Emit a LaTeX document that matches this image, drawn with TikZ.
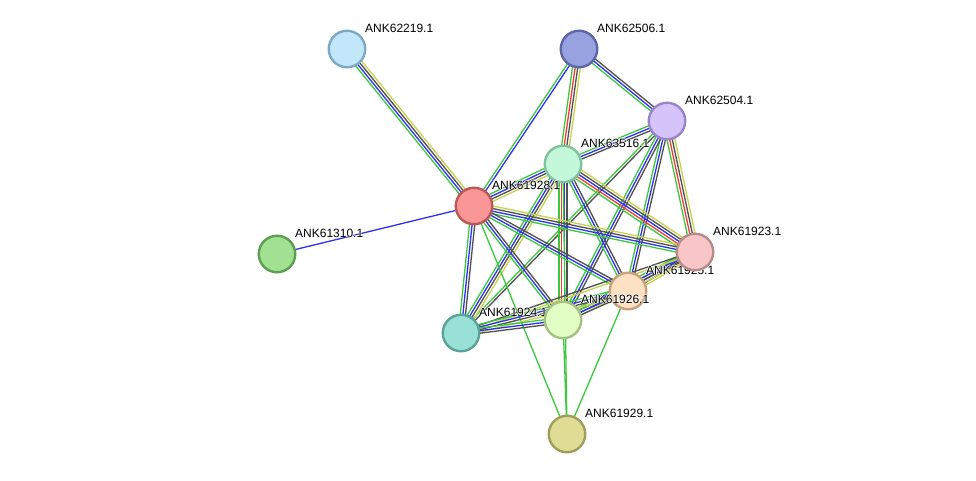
\documentclass[tikz,border=0pt]{standalone}
\usepackage{fontspec}
\setmainfont{Liberation Sans}
\usetikzlibrary{calc,backgrounds}
\definecolor{nbh}{HTML}{3CC83C}
\definecolor{fus}{HTML}{F03A3A}
\definecolor{coo}{HTML}{3030F2}
\definecolor{cex}{HTML}{505050}
\definecolor{txm}{HTML}{C6D24C}
% node colours: fill / rim
\definecolor{f62219}{HTML}{C3E7FA}\definecolor{r62219}{HTML}{7DA9C6}
\definecolor{f62506}{HTML}{99A2E0}\definecolor{r62506}{HTML}{5D66A5}
\definecolor{f62504}{HTML}{D5C4F9}\definecolor{r62504}{HTML}{9C84C9}
\definecolor{f63516}{HTML}{C3F9DA}\definecolor{r63516}{HTML}{80C29D}
\definecolor{f61928}{HTML}{FA9696}\definecolor{r61928}{HTML}{BA5757}
\definecolor{f61310}{HTML}{A2E092}\definecolor{r61310}{HTML}{5C9E52}
\definecolor{f61929}{HTML}{DEDC95}\definecolor{r61929}{HTML}{A19E5B}
\definecolor{f61925}{HTML}{FEE0C2}\definecolor{r61925}{HTML}{C6A27D}
\definecolor{f61923}{HTML}{F8C6C6}\definecolor{r61923}{HTML}{B88B8B}
\definecolor{f61924}{HTML}{99E0D6}\definecolor{r61924}{HTML}{5AA29A}
\definecolor{f61926}{HTML}{E2FEC4}\definecolor{r61926}{HTML}{A4C283}
\tikzset{prot/.style={circle,line width=2.4pt,minimum size=36.5pt,inner sep=0pt},
  lbl/.style={anchor=west,inner sep=0pt,font=\fontsize{12}{14}\selectfont},
  chan/.style={line width=1.3pt}}
\newcommand{\halo}[1]{\leavevmode\rlap{\color{white}\hspace{-0.8pt}#1}\rlap{\color{white}\hspace{0.8pt}#1}\rlap{\color{white}\raisebox{0.8pt}{#1}}\rlap{\color{white}\raisebox{-0.8pt}{#1}}#1}
\newcommand{\prot}[4]{\node[prot,fill=f#1,draw=r#1] (p#1) at (#2,#3) {};\node[lbl] (p#1t) at ($(p#1)+(18,-21)$) {\halo{#4}};}
\newcommand{\linkage}[3]{%
  \foreach \c [count=\i] in {#3} {\xdef\nch{\i}}
  \foreach \c [count=\i] in {#3} {
    \pgfmathsetmacro{\off}{(\i-(\nch+1)/2)*2.6}
    \draw[chan,\c] ($(#1)!\off pt!90:(#2)$) -- ($(#2)!\off pt!-90:(#1)$);
  }}
\begin{document}
\begin{tikzpicture}[x=1pt,y=-1pt]
\useasboundingbox (0,0) rectangle (976,480);
% proteins
\prot{62219}{347}{49}{ANK62219.1}
\prot{62506}{579}{49}{ANK62506.1}
\prot{62504}{667}{121}{ANK62504.1}
\prot{63516}{563}{164}{ANK63516.1}
\prot{61928}{474}{206}{ANK61928.1}
\prot{61310}{277}{254}{ANK61310.1}
\prot{61929}{567}{434}{ANK61929.1}
\prot{61925}{628}{291}{ANK61925.1}
\prot{61923}{695}{252}{ANK61923.1}
\prot{61924}{461}{333}{ANK61924.1}
\prot{61926}{563}{320}{ANK61926.1}
% evidence links
\begin{pgfonlayer}{background}
\fill[white] (0,0) rectangle (976,480);
\linkage{p62219}{p61928}{nbh,coo,cex,txm}
\linkage{p61310}{p61928}{coo}
\linkage{p62506}{p61928}{nbh,coo}
\linkage{p62506}{p63516}{nbh,fus,cex,txm}
\linkage{p62506}{p62504}{nbh,coo,cex}
\linkage{p62504}{p63516}{nbh,coo,cex}
\linkage{p62504}{p61923}{nbh,fus,cex,txm}
\linkage{p62504}{p61925}{nbh,coo,cex}
\linkage{p62504}{p61926}{nbh,coo,cex}
\linkage{p62504}{p61924}{nbh,cex}
\linkage{p63516}{p61928}{nbh,coo,cex,txm}
\linkage{p63516}{p61923}{nbh,fus,coo,cex,txm}
\linkage{p63516}{p61925}{nbh,coo,cex}
\linkage{p63516}{p61926}{nbh,fus,coo,cex}
\linkage{p63516}{p61924}{nbh,coo,cex,txm}
\linkage{p63516}{p61929}{nbh}
\linkage{p61928}{p61923}{nbh,coo,cex,txm}
\linkage{p61928}{p61925}{nbh,coo,cex}
\linkage{p61928}{p61926}{nbh,coo,cex}
\linkage{p61928}{p61924}{nbh,coo,cex}
\linkage{p61928}{p61929}{nbh}
\linkage{p61923}{p61925}{nbh,coo,cex,txm}
\linkage{p61923}{p61926}{nbh,coo,cex,txm}
\linkage{p61923}{p61924}{cex,txm}
\linkage{p61925}{p61926}{nbh,coo,cex}
\linkage{p61925}{p61924}{nbh,coo,cex,txm}
\linkage{p61925}{p61929}{nbh}
\linkage{p61926}{p61924}{nbh,coo,cex}
\linkage{p61926}{p61929}{nbh}
\end{pgfonlayer}
\end{tikzpicture}
\end{document}
